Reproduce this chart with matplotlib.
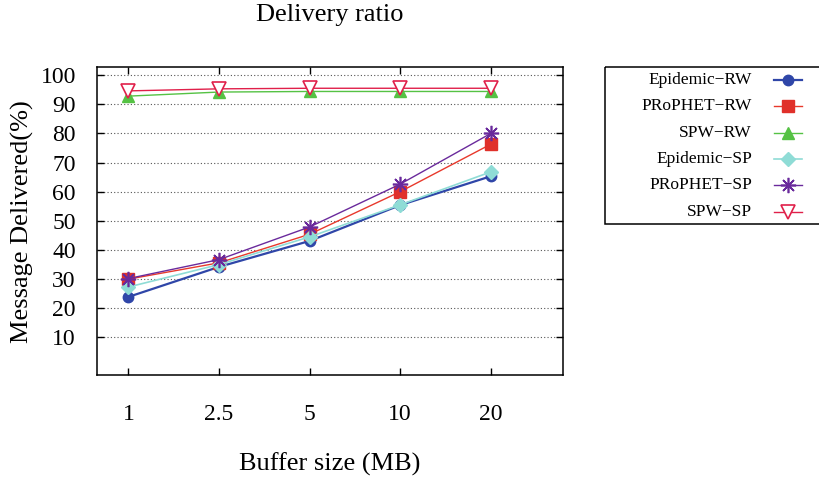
import matplotlib
matplotlib.use("Agg")
import matplotlib.pyplot as plt
from matplotlib.lines import Line2D
from matplotlib.patches import Rectangle

buffer_sizes = ["1", "2.5", "5", "10", "20"]
y_ticks = [10, 20, 30, 40, 50, 60, 70, 80, 90, 100]

series_names = ["Epidemic\u2212RW", "PRoPHET\u2212RW", "SPW\u2212RW",
                "Epidemic\u2212SP", "PRoPHET\u2212SP", "SPW\u2212SP"]
epidemic_rw = [23.9, 34.2, 43.1, 55.4, 65.3]
prophet_rw = [30.0, 35.6, 45.4, 60.0, 76.3]
spw_rw = [92.8, 94.2, 94.4, 94.4, 94.4]
epidemic_sp = [27.3, 35.0, 44.5, 55.5, 66.8]
prophet_sp = [30.2, 36.7, 47.9, 62.6, 80.0]
spw_sp = [94.6, 95.3, 95.5, 95.5, 95.5]
series_values = [epidemic_rw, prophet_rw, spw_rw, epidemic_sp, prophet_sp, spw_sp]

styles = [
    dict(color="#2f46a8", marker="o", ms=7.5, lw=1.6, mfc="#2f46a8", mec="#2f46a8"),
    dict(color="#e8392c", marker="s", ms=8.5, lw=1.0, mfc="#e0302a", mec="#e0302a"),
    dict(color="#55c244", marker="^", ms=9.0, lw=1.0, mfc="#55c244", mec="#55c244"),
    dict(color="#8fdcd6", marker="D", ms=7.5, lw=1.2, mfc="#8fdcd6", mec="#8fdcd6"),
    dict(color="#6a2a9c", marker=(8, 2, 0), ms=11, lw=1.0, mfc="#6a2a9c", mec="#6a2a9c", mew=1.2),
    dict(color="#e0204a", marker="v", ms=10, lw=1.0, mfc="white", mec="#e0204a", mew=1.2),
]

plt.rcParams['font.family'] = ['Liberation Serif', 'DejaVu Serif']
plt.rcParams['mathtext.fontset'] = 'stix'

fig = plt.figure(figsize=(8.19, 4.82), dpi=100)
ax = fig.add_axes([96.7 / 819, 1 - 375 / 482, (563.3 - 96.7) / 819, (375 - 66.7) / 482])

x = list(range(len(buffer_sizes)))
for name, vals, st in zip(series_names, series_values, styles):
    ax.plot(x, vals, color=st["color"], lw=st["lw"], marker=st["marker"],
            markersize=st["ms"], markerfacecolor=st["mfc"], markeredgecolor=st["mec"],
            markeredgewidth=st.get("mew", 1.0), label=name, zorder=3)

ax.set_xlim(-0.35, 4.8)
ax.set_ylim(-2.9, 102.9)
ax.set_xticks(x)
ax.set_xticklabels(buffer_sizes)
ax.set_yticks(y_ticks)
ax.tick_params(axis='x', direction='in', length=5, width=1, top=True, bottom=True,
               labelsize=17, pad=21)
ax.tick_params(axis='y', direction='in', length=5, width=1, left=True, right=True,
               labelsize=17, pad=15)
for sp in ax.spines.values():
    sp.set_linewidth(1.1)
ax.yaxis.grid(True, linestyle=(0, (1, 2)), color="#555555", linewidth=0.8)
ax.set_axisbelow(True)

fig.text(330 / 819, 1 - 15 / 482, "Delivery ratio", ha='center', va='center', fontsize=19)
fig.text(330 / 819, 1 - 464 / 482, "Buffer size (MB)", ha='center', va='center', fontsize=19)
fig.text(22 / 819, 1 - 222 / 482, "Message Delivered(%)", ha='center', va='center',
         fontsize=19, rotation=90)

# legend box
lax = fig.add_axes([605 / 819, 1 - 224 / 482, 230 / 819, (224 - 66.7) / 482])
lax.set_xlim(605, 835)
lax.set_ylim(224, 66.7)
lax.axis('off')
lax.add_patch(Rectangle((605, 66.7), 230, 224 - 66.7, fill=False, edgecolor='black',
                        linewidth=1.1, clip_on=False))
row_y = [80, 106.3, 132.6, 158.9, 185.2, 211.5]
for name, ry, st in zip(series_names, row_y, styles):
    lax.text(752, ry, name, ha='right', va='center', fontsize=12.5)
    lax.add_line(Line2D([774, 802], [ry, ry], color=st["color"], lw=st["lw"]))
    lax.add_line(Line2D([788], [ry], marker=st["marker"], markersize=st["ms"],
                        markerfacecolor=st["mfc"], markeredgecolor=st["mec"],
                        markeredgewidth=st.get("mew", 1.0), linestyle='none'))

fig.savefig("out.png", dpi=100)
